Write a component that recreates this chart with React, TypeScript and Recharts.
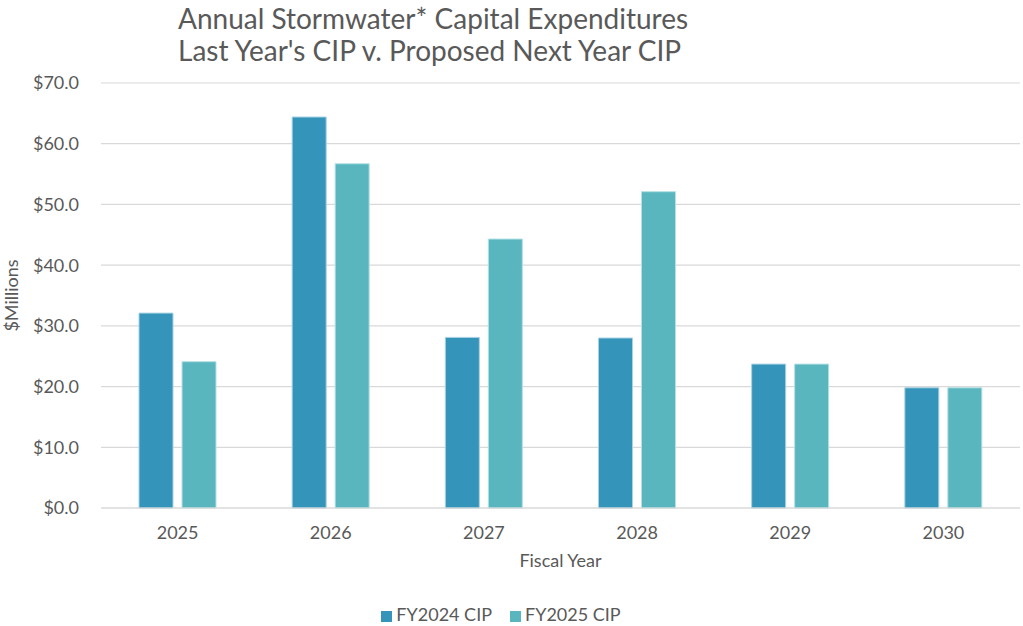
import { Bar, BarChart, CartesianGrid, Legend, XAxis, YAxis } from "recharts";

const years = ["2025", "2026", "2027", "2028", "2029", "2030"];
const fy2024 = [32.1, 64.4, 28.1, 28.0, 23.7, 19.8];
const fy2025 = [24.1, 56.7, 44.3, 52.1, 23.7, 19.8];
const yTicks = [0, 10, 20, 30, 40, 50, 60, 70];

const data = years.map((year, i) => ({ year, fy2024: fy2024[i], fy2025: fy2025[i] }));

const FONT = "Lato, 'Open Sans', sans-serif";
const GRAY = "#595959";

export default function App() {
  return (
    <div style={{ position: "absolute", left: 0, top: 0, width: 1023, height: 626, background: "#fff", fontFamily: FONT }}>
      <div
        style={{
          position: "absolute",
          left: 178,
          top: 2,
          fontSize: 28,
          lineHeight: "32px",
          color: GRAY,
          zIndex: 1,
        }}
      >
        Annual Stormwater* Capital Expenditures
        <br />
        Last Year's CIP v. Proposed Next Year CIP
      </div>
      <BarChart
        width={1023}
        height={626}
        data={data}
        margin={{ top: 83, right: 3, bottom: 1, left: 0 }}
        barSize={34}
        barGap={9}
      >
        <CartesianGrid vertical={false} stroke="#d9d9d9" strokeWidth={1.2} />
        <XAxis
          dataKey="year"
          height={95}
          axisLine={{ stroke: "#d9d9d9" }}
          tickLine={false}
          tickMargin={12}
          tick={{ fill: GRAY, fontSize: 18 }}
          label={{ value: "Fiscal Year", position: "insideTop", offset: 46, fill: GRAY, fontSize: 18 }}
        />
        <YAxis
          width={101}
          domain={[0, 70]}
          ticks={yTicks}
          axisLine={false}
          tickLine={false}
          tickMargin={16}
          tickFormatter={(v: number) => `$${v.toFixed(1)}`}
          tick={{ fill: GRAY, fontSize: 18 }}
          label={{
            value: "$Millions",
            angle: -90,
            position: "insideLeft",
            offset: 12,
            fill: GRAY,
            fontSize: 18,
            style: { textAnchor: "middle" },
          }}
        />
        <Legend
          verticalAlign="bottom"
          iconType="square"
          iconSize={11}
          wrapperStyle={{ fontSize: 18, color: GRAY }}
          formatter={(value: string) => <span style={{ color: GRAY, marginRight: 8 }}>{value}</span>}
        />
        <Bar dataKey="fy2024" name="FY2024 CIP" fill="#3594BA" stroke="#a8d2e2" strokeWidth={1} isAnimationActive={false} />
        <Bar dataKey="fy2025" name="FY2025 CIP" fill="#5AB6BE" stroke="#b5e0e4" strokeWidth={1} isAnimationActive={false} />
      </BarChart>
    </div>
  );
}
